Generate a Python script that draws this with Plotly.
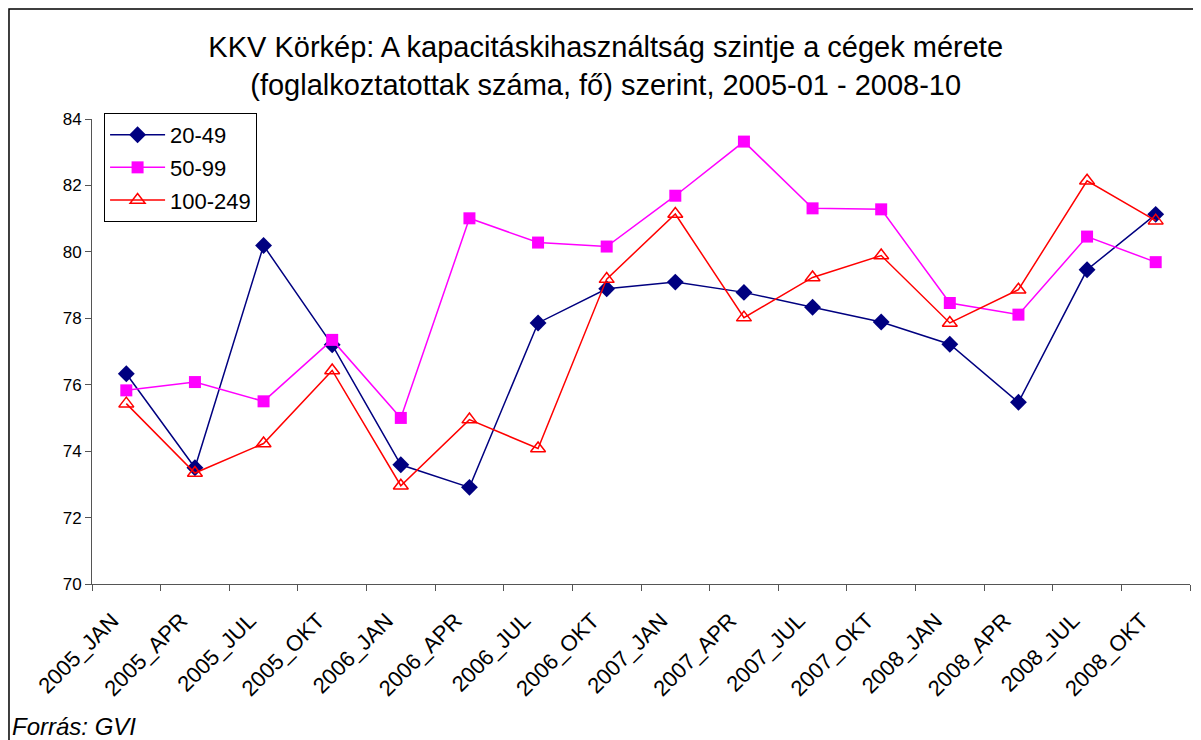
import plotly.graph_objects as go

categories = ["2005_JAN", "2005_APR", "2005_JUL", "2005_OKT",
              "2006_JAN", "2006_APR", "2006_JUL", "2006_OKT",
              "2007_JAN", "2007_APR", "2007_JUL", "2007_OKT",
              "2008_JAN", "2008_APR", "2008_JUL", "2008_OKT"]

s_20_49 = [76.33, 73.50, 80.19, 77.20, 73.59, 72.91, 77.86, 78.89,
           79.09, 78.78, 78.33, 77.89, 77.22, 75.47, 79.46, 81.13]
s_50_99 = [75.83, 76.08, 75.50, 77.35, 75.00, 81.01, 80.28, 80.16,
           81.69, 83.32, 81.31, 81.28, 78.46, 78.11, 80.46, 79.69]
s_100_249 = [75.43, 73.34, 74.23, 76.43, 72.96, 74.95, 74.08, 79.18,
             81.14, 78.02, 79.23, 79.89, 77.86, 78.86, 82.14, 80.94]

y_ticks = [70, 72, 74, 76, 78, 80, 82, 84]

title_text = ("KKV Körkép: A kapacitáskihasználtság szintje a cégek mérete<br>"
              "(foglalkoztatottak száma, fő) szerint, 2005-01 - 2008-10")
source_text = "Forrás: GVI"

FONT = "Liberation Sans, Arial, sans-serif"

fig = go.Figure()
fig.add_trace(go.Scatter(
    x=categories, y=s_20_49, name="20-49", mode="lines+markers",
    legendgroup="a",
    line=dict(color="#000080", width=1.5),
    marker=dict(symbol="diamond", size=13, color="#000080")))
fig.add_trace(go.Scatter(
    x=categories, y=s_50_99, name="50-99", mode="lines+markers",
    legendgroup="b",
    line=dict(color="#FF00FF", width=1.5),
    marker=dict(symbol="square", size=12, color="#FF00FF")))
fig.add_trace(go.Scatter(
    x=categories, y=s_100_249, name="100-249", mode="lines+markers",
    legendgroup="c",
    line=dict(color="#FF0000", width=1.5),
    marker=dict(symbol="triangle-up-open", size=13, color="#FF0000",
                line=dict(width=1.5, color="#FF0000"))))

fig.update_layout(
    width=1193, height=732,
    margin=dict(l=84, r=11, t=111, b=155.5, autoexpand=False),
    paper_bgcolor="white", plot_bgcolor="white",
    font=dict(family=FONT, color="black"),
    title=dict(text=title_text, x=0.501, xanchor="center", xref="container",
               y=0.933, yanchor="middle", yref="container",
               font=dict(size=29, family=FONT, color="black")),
    showlegend=True,
    legend=dict(x=0.011, y=1.013, xanchor="left", yanchor="top",
                bgcolor="white", bordercolor="black", borderwidth=1,
                font=dict(size=22, family=FONT), tracegroupgap=1,
                itemwidth=55),
    xaxis=dict(type="category", range=[-0.5, 15.5], tickson="boundaries",
               ticks="outside", ticklen=6, tickcolor="#555", tickwidth=1,
               showline=True, linecolor="#555", linewidth=1,
               showgrid=False, zeroline=False, tickangle=-45,
               ticklabelshift=-14, ticklabelstandoff=14,
               tickfont=dict(size=22, family=FONT)),
    yaxis=dict(range=[70, 84], tickvals=y_ticks,
               ticks="outside", ticklen=6, tickcolor="#555", tickwidth=1,
               showline=True, linecolor="#555", linewidth=1,
               showgrid=False, zeroline=False,
               tickfont=dict(size=17, family=FONT)),
)

fig.add_annotation(text="<i>" + source_text + "</i>", xref="paper", yref="paper",
                   x=-0.0747, y=-0.306, xanchor="left", yanchor="middle",
                   showarrow=False,
                   font=dict(size=24, family=FONT, color="black"))

fig.add_shape(type="rect", xref="paper", yref="paper",
              x0=-0.0756, x1=1.02, y0=-0.36, y1=1.2368,
              line=dict(color="black", width=1.5), fillcolor="rgba(0,0,0,0)")

fig.write_html("out.html")
